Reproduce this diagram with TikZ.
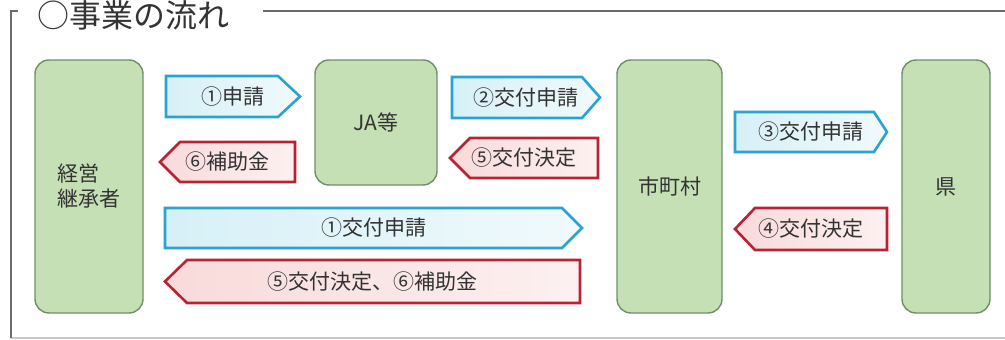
\documentclass[tikz,border=0pt]{standalone}
\usepackage{fontspec}
\setmainfont{Noto Sans CJK JP}
\definecolor{boxfill}{HTML}{C5E0B4}
\definecolor{boxdraw}{HTML}{6F8F6A}
\definecolor{bluedraw}{HTML}{2AA3D0}
\definecolor{bluefill}{HTML}{D6F0F7}
\definecolor{reddraw}{HTML}{B82232}
\definecolor{redfill}{HTML}{F9DADA}
\definecolor{framec}{HTML}{6B6B6B}
\definecolor{bottomc}{HTML}{C8C8C8}
\definecolor{txt}{HTML}{333333}
\tikzset{
  gbox/.style={rectangle, rounded corners=14pt, draw=boxdraw, fill=boxfill, line width=1.4pt, inner sep=0pt, text=txt, font=\fontsize{21}{25}\selectfont},
  bluearr/.style={draw=bluedraw, line width=2.6pt, line join=miter, left color=bluefill, right color=bluefill!35!white},
  redarr/.style={draw=reddraw, line width=2.6pt, line join=miter, left color=redfill, right color=redfill!40!white},
  lbl/.style={inner sep=0pt, text=txt, font=\fontsize{21}{24}\selectfont},
}
\newcommand\rightblock[7]{%
  \path[bluearr] (#2,#5) -- (#3,#5) -- (#4,{(#5+#6)/2}) -- (#3,#6) -- (#2,#6) -- cycle;
  \node[lbl] (#1) at ({(#2+#4)/2},{(#5+#6)/2}) {#7};}
\newcommand\leftblock[7]{%
  \path[redarr] (#2,{(#5+#6)/2}) -- (#3,#5) -- (#4,#5) -- (#4,#6) -- (#3,#6) -- cycle;
  \node[lbl] (#1) at ({(#2+#4)/2},{(#5+#6)/2}) {#7};}
\begin{document}
\begin{tikzpicture}[x=1pt,y=-1pt]
\useasboundingbox (0,0) rectangle (1005,340);
% frame
\draw[bottomc, line width=1.2pt] (11,338) -- (1005,338);
\draw[framec, line width=1.4pt] (18,11) -- (11,11) -- (11,338);
\draw[framec, line width=1.4pt] (263,11) -- (1005,11);
\node[anchor=base west, inner sep=0pt, text=txt, font=\fontsize{32}{32}\selectfont] (title) at (37,27.5) {○事業の流れ};
% boxes
\node[gbox, minimum width=108pt, minimum height=253pt, align=left] (keiei) at (89,186.5) {経営\\継承者};
\node[gbox, minimum width=122pt, minimum height=125pt] (ja) at (376,122.5) {JA等};
\node[gbox, minimum width=105pt, minimum height=253pt] (shi) at (669.5,186.5) {市町村};
\node[gbox, minimum width=88pt, minimum height=253pt] (ken) at (946,186.5) {県};
% arrows
\rightblock{a1}{166}{278}{300}{76}{117}{①申請}
\leftblock{a6}{160}{180}{295}{142}{182}{⑥補助金}
\rightblock{a2}{452}{582}{600}{77}{118}{②交付申請}
\leftblock{a5}{450}{470}{598}{138}{178}{⑤交付決定}
\rightblock{a3}{735}{874}{887}{112}{152}{③交付申請}
\leftblock{a4}{735}{755}{887}{208}{250}{④交付決定}
\rightblock{a1l}{165}{562}{582}{208}{248}{①交付申請}
\leftblock{a56}{165}{187}{580}{260}{303}{⑤交付決定、⑥補助金}
\end{tikzpicture}
\end{document}
